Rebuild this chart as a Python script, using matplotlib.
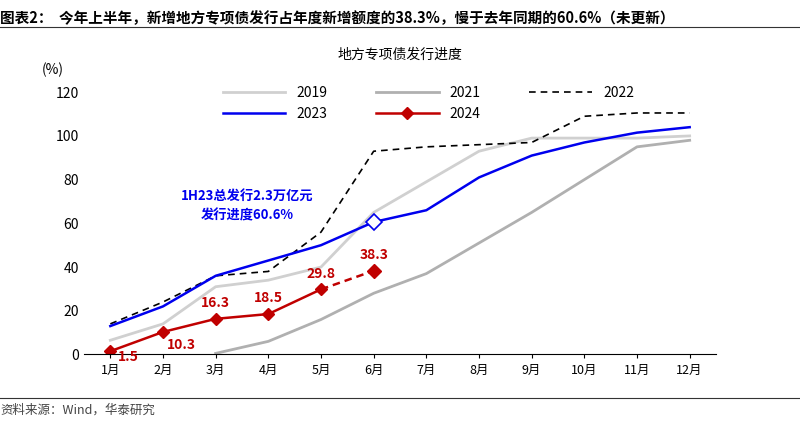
import matplotlib
matplotlib.use("Agg")
import matplotlib.pyplot as plt

plt.rcParams["font.family"] = ["Noto Sans CJK SC"]

months = ["1月", "2月", "3月", "4月", "5月", "6月", "7月", "8月", "9月", "10月", "11月", "12月"]
y2019 = [6.5, 14, 31, 34, 40, 65, 79, 93, 99, 99, 99, 100]
y2021 = [None, None, 0.5, 6, 16, 28, 37, 51, 65, 80, 95, 98]
y2022 = [14, 24, 36, 38, 56, 93, 95, 96, 97, 109, 110.5, 110.5]
y2023 = [13, 22, 36, 43, 50, 60.6, 66, 81, 91, 97, 101.5, 104]
y2024 = [1.5, 10.3, 16.3, 18.5, 29.8, 38.3]

fig = plt.figure(figsize=(8.0, 4.23), dpi=100)
ax = fig.add_axes([0.105, 0.162, 0.79, 0.62])
x = list(range(12))

x21 = [i for i, v in enumerate(y2021) if v is not None]
h19, = ax.plot(x, y2019, color="#d0d0d0", lw=2, label="2019")
h21, = ax.plot(x21, [y2021[i] for i in x21], color="#b0b0b0", lw=2, label="2021")
h22, = ax.plot(x, y2022, color="black", lw=1.2, ls=(0, (4, 3)), label="2022")
h23, = ax.plot(x, y2023, color="#0000ee", lw=1.8, label="2023")
ax.plot(x[5], y2023[5], marker="D", ms=8, mfc="white", mec="#0000ee", mew=1.2)
red = "#c00000"
h24, = ax.plot(x[:5], y2024[:5], color=red, lw=1.8, marker="D", ms=6, label="2024")
ax.plot(x[4:6], y2024[4:6], color=red, lw=1.8, ls=(0, (3, 2)))
ax.plot(x[5], y2024[5], color=red, marker="D", ms=7)

offs = [(0.35, -6), (0.35, -9), (0, 4), (0, 4), (0, 4), (0, 4)]
for i, v in enumerate(y2024):
    ax.text(i + offs[i][0], v + offs[i][1], f"{v:g}", color=red, fontsize=10,
            fontweight="bold", ha="center", va="bottom")

ax.text(2.6, 60.5, "1H23总发行2.3万亿元\n发行进度60.6%", color="#0000ee", fontsize=9.5,
        fontweight="bold", ha="center", va="bottom", linespacing=1.5)

ax.set_xticks(x)
ax.set_xticklabels(months, fontsize=9)
ax.set_xlim(-0.5, 11.5)
ax.set_ylim(0, 120)
ax.set_yticks(range(0, 121, 20))
ax.tick_params(axis="y", labelsize=10, length=0)
ax.tick_params(axis="x", length=3)
for s in ["top", "right", "left"]:
    ax.spines[s].set_visible(False)
ax.text(-0.05, 1.07, "(%)", transform=ax.transAxes, fontsize=10, ha="center")

ax.legend([h19, h23, h21, h24, h22], ["2019", "2023", "2021", "2024", "2022"],
          loc="upper left", bbox_to_anchor=(0.2, 1.07), ncol=3, frameon=False,
          fontsize=10, handlelength=4.5, columnspacing=3.5)

fig.text(0.0, 0.975, "图表2：  今年上半年，新增地方专项债发行占年度新增额度的38.3%，慢于去年同期的60.6%（未更新）",
         fontsize=10.5, fontweight="bold", va="top")
fig.add_artist(plt.Line2D([0, 1], [0.935, 0.935], color="#333333", lw=0.8))
fig.text(0.5, 0.87, "地方专项债发行进度", fontsize=10, ha="center", va="center")
fig.add_artist(plt.Line2D([0, 1], [0.06, 0.06], color="#333333", lw=0.8))
fig.text(0.0, 0.03, "资料来源：Wind，华泰研究", fontsize=9, color="#444444", va="center")

fig.savefig("out.png", dpi=100)
